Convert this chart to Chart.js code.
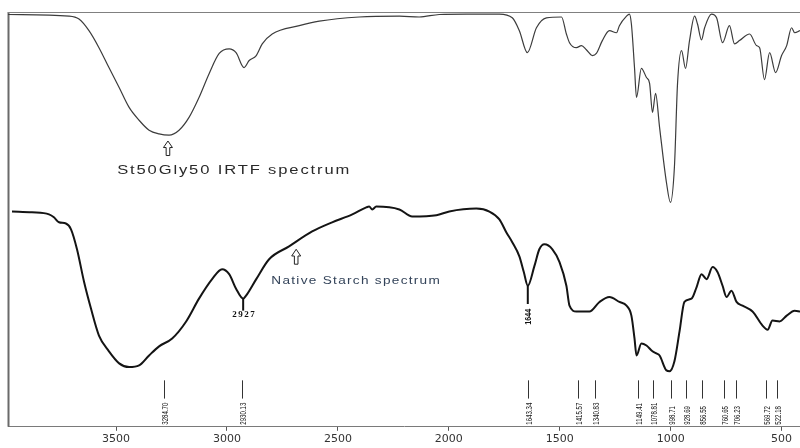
<!DOCTYPE html>
<html>
<head>
<meta charset="utf-8">
<script src="https://cdn.jsdelivr.net/npm/chart.js@4.4.1/dist/chart.umd.min.js"></script>
<style>
  html, body { margin: 0; padding: 0; background: #fff; }
  #wrap { width: 800px; height: 448px; }
</style>
</head>
<body>
<div id="wrap"><canvas id="c" width="800" height="448"></canvas></div>
<script>
// FTIR spectra: wavenumber (cm-1) vs relative transmittance (arbitrary units)
const wavenumberTicks = [3500, 3000, 2500, 2000, 1500, 1000, 500];

const st50Gly50 = [
  [3987,99.4],[3712,99.0],[3667,98.3],[3622,95.5],[3577,91.4],[3532,86.6],[3486,81.8],
  [3441,77.0],[3396,73.9],[3351,71.5],[3306,70.6],[3261,70.3],[3216,71.5],[3171,74.6],
  [3126,79.4],[3080,85.2],[3035,90.0],[2990,91.1],[2959,90.2],[2923,86.6],[2900,88.3],
  [2868,89.5],[2841,92.3],[2796,94.7],[2674,96.7],[2584,97.8],[2404,98.8],[2223,99.0],
  [2133,98.8],[2043,99.4],[1921,99.5],[1772,99.5],[1714,98.6],[1682,95.5],[1646,90.2],
  [1605,96.2],[1560,98.6],[1492,98.8],[1470,94.7],[1456,92.6],[1425,91.4],[1402,91.9],
  [1380,90.9],[1353,89.5],[1335,90.0],[1308,93.1],[1276,95.5],[1244,95.0],[1231,96.7],
  [1199,99.0],[1186,99.5],[1177,97.1],[1163,86.6],[1154,79.4],[1132,86.4],[1109,84.2],
  [1095,82.8],[1082,75.8],[1068,80.4],[1050,72.2],[1019,58.9],[1001,54.1],[983,62.7],
  [969,82.8],[951,90.7],[933,86.4],[915,93.1],[892,99.0],[879,97.1],[861,93.3],
  [847,96.2],[816,99.5],[793,98.6],[766,92.6],[735,96.7],[712,92.3],[690,93.1],
  [644,94.7],[613,91.9],[599,91.4],[577,83.7],[554,90.2],[527,85.4],[500,89.5],
  [477,91.9],[455,96.2],[441,95.0],[417,95.5]
];

const nativeStarch = [
  [3969,51.9],[3879,51.7],[3802,51.2],[3780,50.5],[3757,49.3],[3726,49.0],[3703,47.6],
  [3676,42.8],[3644,34.9],[3613,28.5],[3577,22.0],[3532,18.2],[3486,15.3],[3441,14.4],
  [3396,14.8],[3351,17.2],[3306,19.4],[3247,21.3],[3184,25.4],[3126,30.9],[3067,35.6],
  [3022,38.0],[2990,36.8],[2959,33.3],[2927,30.9],[2914,31.6],[2868,35.6],[2810,40.4],
  [2720,43.5],[2616,47.1],[2526,49.3],[2435,51.2],[2372,52.9],[2359,53.1],[2345,52.4],
  [2327,53.1],[2223,52.4],[2165,50.7],[2056,51.0],[1998,51.9],[1876,52.6],[1817,51.9],
  [1772,50.0],[1741,46.9],[1714,44.5],[1682,41.1],[1662,37.3],[1644,34.0],[1614,38.8],
  [1592,42.8],[1569,44.0],[1533,42.8],[1501,39.7],[1470,34.0],[1456,29.2],[1425,27.8],
  [1366,27.8],[1321,30.1],[1276,31.3],[1231,30.1],[1199,29.2],[1177,26.8],[1163,21.3],
  [1154,17.2],[1132,20.1],[1109,19.6],[1082,18.2],[1064,17.7],[1050,17.2],[1019,13.6],
  [1005,13.4],[983,15.8],[960,23.0],[938,30.1],[906,30.9],[883,33.7],[861,36.8],
  [838,35.6],[811,38.5],[789,37.3],[766,34.0],[748,31.3],[726,32.8],[703,30.1],
  [676,29.2],[631,27.8],[586,24.4],[563,23.4],[541,25.6],[509,25.4],[477,26.8],
  [441,28.0],[417,27.8]
];

// Band positions listed under the spectra
const peakMarks = [3284.70, 2930.13, 1643.34, 1415.57, 1340.83, 1149.41, 1078.81,
                   998.71, 928.69, 856.55, 760.65, 706.23, 569.72, 522.18];
const peakLabels = ["3284.70", "2930.13", "1643.34", "1415.57", "1340.83", "1149.41", "1078.81",
                    "998.71", "928.69", "856.55", "760.65", "706.23", "569.72", "522.18"];

// Labelled minima of the native starch spectrum
const starchBands = [2927, 1644];
const starchBandLabels = ["2927", "1644"];

const toXY = arr => arr.map(p => ({ x: p[0], y: p[1] }));

const framePlugin = {
  id: 'frame',
  beforeDatasetsDraw(chart) {
    const { ctx, chartArea: a } = chart;
    ctx.save();
    ctx.strokeStyle = '#6a6a6a';
    ctx.lineWidth = 2;
    ctx.beginPath();
    ctx.moveTo(a.left + 0.5, a.top);
    ctx.lineTo(a.left + 0.5, a.bottom);
    ctx.stroke();
    ctx.strokeStyle = '#808080';
    ctx.lineWidth = 1;
    ctx.beginPath();
    ctx.moveTo(a.left, a.top + 0.5);
    ctx.lineTo(a.right, a.top + 0.5);
    ctx.stroke();
    ctx.restore();
  }
};

function hollowUpArrow(ctx, x, yTip, yBase) {
  const h = yBase - yTip;
  const headH = h * 0.45;
  ctx.beginPath();
  ctx.moveTo(x, yTip);
  ctx.lineTo(x + 4.5, yTip + headH);
  ctx.lineTo(x + 1.8, yTip + headH);
  ctx.lineTo(x + 1.8, yBase);
  ctx.lineTo(x - 1.8, yBase);
  ctx.lineTo(x - 1.8, yTip + headH);
  ctx.lineTo(x - 4.5, yTip + headH);
  ctx.closePath();
  ctx.fillStyle = '#fff';
  ctx.fill();
  ctx.strokeStyle = '#222';
  ctx.lineWidth = 1;
  ctx.stroke();
}

const annotationPlugin = {
  id: 'bandNotes',
  afterDatasetsDraw(chart) {
    const { ctx } = chart;
    const xs = chart.scales.x, ys = chart.scales.y;
    ctx.save();

    // band markers and rotated wavenumber labels
    ctx.strokeStyle = '#333';
    ctx.lineWidth = 1;
    ctx.fillStyle = '#222';
    peakMarks.forEach((wn, i) => {
      const x = Math.round(xs.getPixelForValue(wn)) + 0.5;
      ctx.beginPath();
      ctx.moveTo(x, ys.getPixelForValue(11.2));
      ctx.lineTo(x, ys.getPixelForValue(6.8));
      ctx.stroke();
      ctx.save();
      ctx.translate(x + 0.5, ys.getPixelForValue(0.5));
      ctx.rotate(-Math.PI / 2);
      ctx.scale(0.68, 1.05);
      ctx.font = '9px "Liberation Sans", Arial, sans-serif';
      ctx.textAlign = 'left';
      ctx.textBaseline = 'middle';
      ctx.fillText(peakLabels[i], 0, 0);
      ctx.restore();
    });

    // 2927 band
    const x1 = xs.getPixelForValue(starchBands[0]);
    ctx.strokeStyle = '#111';
    ctx.lineWidth = 2;
    ctx.beginPath();
    ctx.moveTo(x1, ys.getPixelForValue(30.9));
    ctx.lineTo(x1, ys.getPixelForValue(28.0));
    ctx.stroke();
    ctx.fillStyle = '#111';
    ctx.font = 'bold 9px "Liberation Serif", serif';
    ctx.letterSpacing = '1.5px';
    ctx.textAlign = 'center';
    ctx.textBaseline = 'middle';
    ctx.fillText(starchBandLabels[0], x1 + 1, ys.getPixelForValue(27.0));
    ctx.letterSpacing = '0px';

    // 1644 band
    const x2 = xs.getPixelForValue(starchBands[1]);
    ctx.beginPath();
    ctx.moveTo(x2, ys.getPixelForValue(34.0));
    ctx.lineTo(x2, ys.getPixelForValue(29.6));
    ctx.stroke();
    ctx.save();
    ctx.translate(x2, ys.getPixelForValue(24.6));
    ctx.rotate(-Math.PI / 2);
    ctx.scale(0.8, 1.1);
    ctx.font = 'bold 9px "Liberation Sans", Arial, sans-serif';
    ctx.textAlign = 'left';
    ctx.textBaseline = 'middle';
    ctx.fillText(starchBandLabels[1], 0, 0);
    ctx.restore();

    // spectrum captions with arrows
    hollowUpArrow(ctx, xs.getPixelForValue(3266), ys.getPixelForValue(68.9), ys.getPixelForValue(65.4));
    ctx.fillStyle = '#2a2a2a';
    ctx.font = '12px "Liberation Sans", Arial, sans-serif';
    ctx.letterSpacing = '1.35px';
    ctx.textAlign = 'left';
    ctx.textBaseline = 'alphabetic';
    ctx.save();
    ctx.translate(xs.getPixelForValue(3495), ys.getPixelForValue(61.0));
    ctx.scale(1.38, 1);
    ctx.fillText('St50Gly50 IRTF spectrum', 0, 0);
    ctx.restore();

    hollowUpArrow(ctx, xs.getPixelForValue(2688), ys.getPixelForValue(42.8), ys.getPixelForValue(39.2));
    ctx.fillStyle = '#34445a';
    ctx.font = '10px "Liberation Sans", Arial, sans-serif';
    ctx.letterSpacing = '0.95px';
    ctx.save();
    ctx.translate(xs.getPixelForValue(2800), ys.getPixelForValue(34.4));
    ctx.scale(1.36, 1);
    ctx.fillText('Native Starch spectrum', 0, 0);
    ctx.restore();
    ctx.letterSpacing = '0px';

    ctx.restore();
  }
};

new Chart(document.getElementById('c'), {
  type: 'line',
  data: {
    datasets: [
      {
        label: 'St50Gly50',
        data: toXY(st50Gly50),
        borderColor: '#3c3c3c',
        borderWidth: 1.2,
        pointRadius: 0,
        cubicInterpolationMode: 'monotone',
        fill: false
      },
      {
        label: 'Native starch',
        data: toXY(nativeStarch),
        borderColor: '#141414',
        borderWidth: 2,
        pointRadius: 0,
        cubicInterpolationMode: 'monotone',
        fill: false
      }
    ]
  },
  options: {
    responsive: false,
    animation: false,
    parsing: true,
    layout: { padding: { left: 8, top: 12, right: 0, bottom: 0 } },
    plugins: { legend: { display: false }, tooltip: { enabled: false } },
    scales: {
      x: {
        type: 'linear',
        reverse: true,
        min: 417,
        max: 3987,
        afterBuildTicks(scale) {
          scale.ticks = wavenumberTicks.map(v => ({ value: v }));
        },
        ticks: {
          color: '#333',
          padding: 2,
          maxRotation: 0,
          autoSkip: false,
          font: { family: '"DejaVu Sans", sans-serif', size: 11 },
          callback: v => String(v)
        },
        grid: { display: true, drawOnChartArea: false, drawTicks: true, tickLength: 4, color: '#555' },
        border: { display: true, color: '#7a7a7a', width: 1 }
      },
      y: {
        type: 'linear',
        min: 0,
        max: 100,
        display: false
      }
    }
  },
  plugins: [framePlugin, annotationPlugin]
});
</script>
</body>
</html>
